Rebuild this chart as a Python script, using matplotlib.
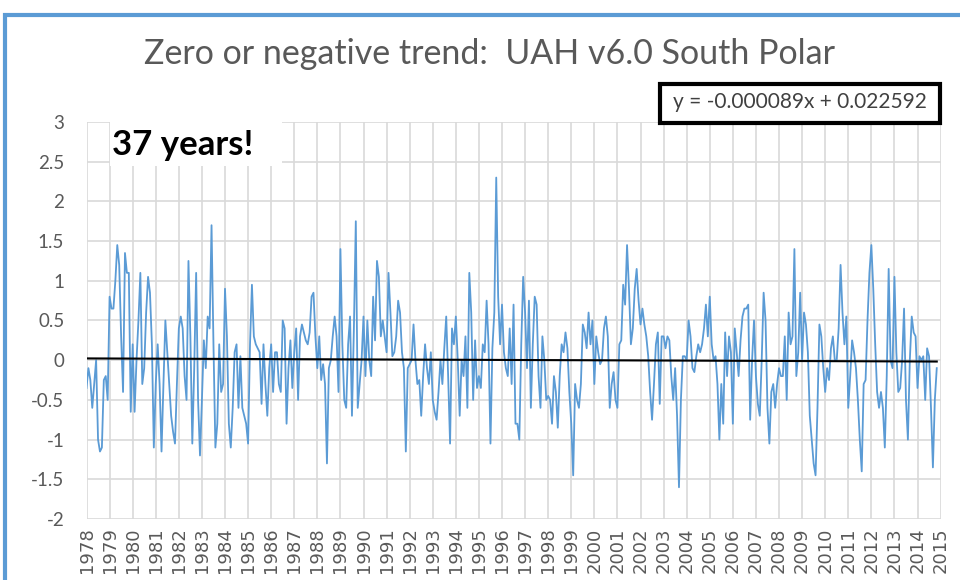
import numpy as np
import matplotlib
matplotlib.use("Agg")
from matplotlib import pyplot as plt
from matplotlib.patches import Rectangle

plt.rcParams['font.family'] = ['Lato', 'DejaVu Sans']

# monthly anomalies, Dec 1978 onward
anom = [
    -0.35, -0.1, -0.25, -0.6, -0.3, 0.0, -1.0, -1.15, -1.1, -0.25, -0.2, -0.5,
    0.8, 0.65, 0.65, 1.0, 1.45, 1.2, 0.3, -0.4, 1.35, 1.1, 1.1, -0.65,
    0.2, -0.65, 0.0, 0.5, 1.1, -0.3, -0.1, 0.6, 1.05, 0.85, 0.2, -1.1,
    -0.3, 0.2, -0.3, -1.15, -0.3, 0.5, 0.1, -0.3, -0.7, -0.9, -1.05, -0.3,
    0.4, 0.55, 0.4, -0.2, -0.5, 1.25, 0.3, -1.05, -0.1, 1.1, -0.5, -1.2,
    -0.5, 0.25, -0.1, 0.55, 0.4, 1.7, 0.2, -1.1, -0.8, 0.2, -0.4, -0.3,
    0.9, 0.3, -0.8, -1.1, -0.6, 0.1, 0.2, -0.6, 0.05, -0.6, -0.7, -0.8,
    -1.05, 0.2, 0.95, 0.3, 0.2, 0.15, 0.1, -0.55, 0.2, -0.3, -0.7, -0.1,
    0.2, -0.4, 0.1, 0.1, -0.3, -0.4, 0.5, 0.4, -0.8, -0.1, 0.25, -0.35,
    0.1, 0.4, -0.5, 0.3, 0.45, 0.35, 0.25, 0.2, 0.35, 0.8, 0.85, 0.3,
    -0.1, 0.3, -0.25, -0.05, -0.3, -1.3, -0.1, 0.0, 0.3, 0.55, 0.3, -0.4,
    1.4, 0.2, -0.5, -0.6, 0.2, 0.55, -0.7, 0.4, 1.75, -0.6, -0.3, 0.0,
    0.55, -0.2, 0.5, 0.0, -0.2, 0.8, 0.25, 1.25, 1.05, 0.3, 0.5, 0.3,
    0.1, 1.1, 0.6, 0.05, 0.1, 0.3, 0.75, 0.6, 0.1, -0.1, -1.15, -0.1,
    -0.05, 0.0, 0.45, 0.0, -0.3, -0.25, -0.7, -0.2, 0.2, -0.1, -0.3, 0.1,
    -0.5, -0.65, -0.75, -0.4, 0.0, -0.3, 0.15, 0.55, -0.2, -1.05, 0.4, 0.2,
    0.55, 0.0, -0.7, 0.0, -0.2, 0.3, -0.6, 1.1, 0.6, -0.5, 0.25, -0.35,
    -0.2, -0.35, 0.2, 0.1, 0.75, 0.2, -1.05, 0.15, 0.6, 2.3, 0.8, 0.2,
    0.7, 0.1, -0.1, -0.2, 0.4, -0.3, 0.7, -0.8, -0.8, -1.0, 0.2, 1.05,
    0.6, -0.1, 0.75, -0.6, 0.2, 0.8, 0.7, -0.2, -0.6, 0.3, 0.0, -0.5,
    -0.45, -0.5, -0.8, -0.2, -0.4, -0.85, -0.2, 0.2, 0.1, 0.35, 0.15, -0.4,
    -0.8, -1.45, -0.3, -0.5, -0.6, -0.3, 0.45, 0.35, 0.15, 0.6, 0.2, 0.5,
    -0.3, 0.3, 0.1, -0.05, 0.0, 0.4, 0.55, 0.3, -0.6, -0.3, -0.15, -0.5,
    -0.6, 0.2, 0.25, 0.95, 0.7, 1.45, 0.9, 0.2, 0.4, 0.9, 1.15, 0.75,
    0.45, 0.65, 0.45, 0.3, 0.05, -0.4, -0.75, -0.3, 0.2, 0.35, -0.55, 0.3,
    0.3, 0.15, 0.3, 0.25, -0.2, -0.5, -0.1, -0.7, -1.6, -0.5, 0.05, 0.05,
    0.0, 0.5, 0.3, -0.1, -0.15, 0.05, 0.2, 0.1, 0.2, 0.4, 0.7, 0.3,
    0.8, 0.2, 0.0, 0.05, -0.3, -1.0, -0.3, -0.8, 0.35, -0.2, 0.3, 0.1,
    -0.8, 0.4, 0.1, -0.2, 0.25, 0.55, 0.65, 0.65, 0.7, -0.75, 0.0, 0.5,
    -0.2, -0.55, -0.7, 0.0, 0.85, 0.5, -0.6, -1.05, -0.4, -0.3, -0.6, -0.3,
    -0.1, -0.2, -0.2, 0.3, -0.5, 0.6, 0.2, 0.3, 1.4, -0.2, 0.1, 0.85,
    0.0, 0.6, 0.45, 0.1, -0.7, -1.0, -1.3, -1.45, -0.6, 0.45, 0.3, -0.1,
    -0.4, -0.1, -0.25, 0.15, 0.3, 0.0, 0.0, 0.4, 1.2, 0.6, 0.2, 0.55,
    -0.6, -0.2, 0.25, 0.1, -0.1, -0.5, -1.0, -1.4, -0.3, -0.25, 0.5, 1.1,
    1.45, 0.9, 0.2, -0.4, -0.6, -0.4, -0.6, -1.1, -0.2, 1.15, 0.0, -0.1,
    1.05, 0.1, -0.4, -0.35, 0.0, 0.65, -0.5, -1.0, 0.0, 0.55, 0.35, 0.3,
    -0.35, 0.05, 0.0, 0.05, -0.5, 0.15, 0.05, -0.6, -1.35, -0.5, -0.1,
]
years = list(range(1978, 2016))
yticks = [3, 2.5, 2, 1.5, 1, 0.5, 0, -0.5, -1, -1.5, -2]
slope = -0.000089
intercept = 0.022592

n = len(anom)
t = 1978 + np.arange(n) / 12.0
trend = slope * np.arange(1, n + 1) + intercept

fig = plt.figure(figsize=(9.6, 5.8), dpi=100)
ax = fig.add_axes([86.5 / 960, 1 - 519 / 580, (940.6 - 86.5) / 960, (519 - 122) / 580])

ax.plot(t, anom, color='#5B9BD5', lw=1.3, zorder=3)
ax.plot(t, trend, color='black', lw=1.5, zorder=4)

ax.set_xlim(1978, 2015)
ax.set_ylim(-2, 3)
ax.set_xticks(years)
ax.set_xticklabels([str(y) for y in years], rotation=90, va='top', fontsize=13,
                   color='#595959', family='DejaVu Sans')
ax.set_yticks(yticks)
ax.set_yticklabels(['%g' % v for v in yticks], fontsize=13.5, color='#595959')
ax.tick_params(axis='both', length=0)
ax.tick_params(axis='y', pad=16)
ax.tick_params(axis='x', pad=6)
ax.grid(True, color='#D9D9D9', lw=1.2, zorder=0)
for s in ax.spines.values():
    s.set_visible(False)

fig.text(489 / 960, 1 - 54 / 580, 'Zero or negative trend:  UAH v6.0 South Polar',
         ha='center', va='center', fontsize=24.5, color='#595959')

# equation box
fig.add_artist(Rectangle((660 / 960, 1 - 123 / 580), 280 / 960, 39 / 580,
                         transform=fig.transFigure, facecolor='white',
                         edgecolor='black', lw=3, zorder=5))
fig.text(800 / 960, 1 - 102 / 580, 'y = -0.000089x + 0.022592', ha='center',
         va='center', fontsize=15, color='#404040', zorder=6)

# label box
fig.add_artist(Rectangle((110 / 960, 1 - 166 / 580), 172 / 960, 44 / 580,
                         transform=fig.transFigure, facecolor='white',
                         edgecolor='none', zorder=5))
fig.text(112 / 960, 1 - 145 / 580, '37 years!', ha='left', va='center',
         fontsize=25, fontweight='bold', color='black', zorder=6)

# outer chart border
fig.add_artist(Rectangle((5 / 960, -0.05), 1.0, 1 - 15 / 580 + 0.05,
                         transform=fig.transFigure, facecolor='none',
                         edgecolor='#5B9BD5', lw=3, zorder=7))

fig.savefig('out.png', dpi=100)
